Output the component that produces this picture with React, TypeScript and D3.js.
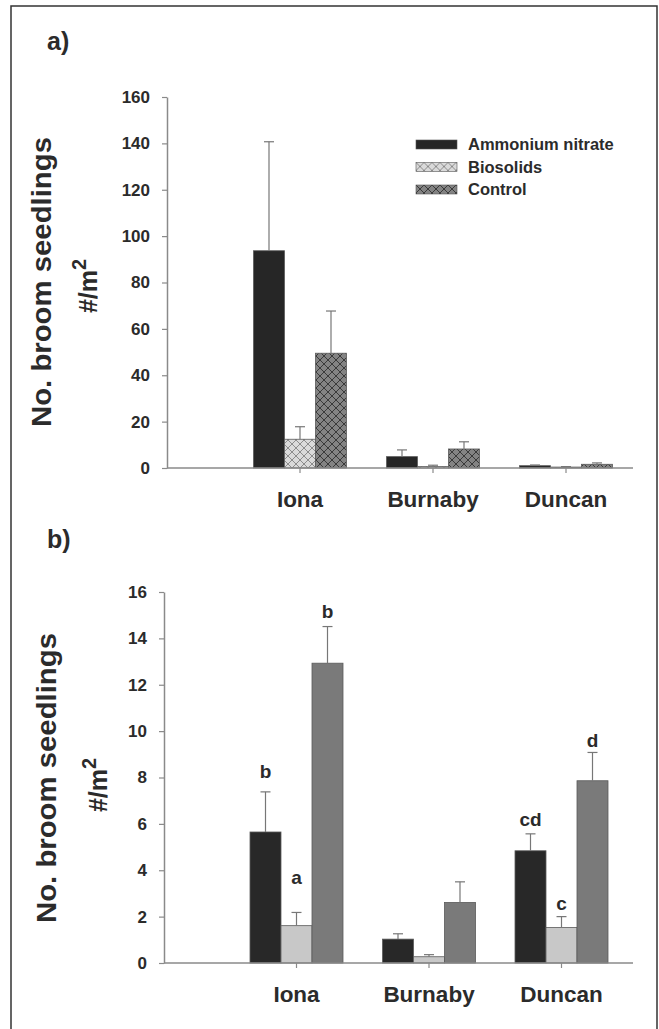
import React, { useEffect, useRef } from 'react';
import * as d3 from 'd3';

const sites = ['Iona', 'Burnaby', 'Duncan'];
const treatments = ['Ammonium nitrate', 'Biosolids', 'Control'];

// panel a) - rows are sites, columns are treatments
const meanA = [
  [93.7, 12.4, 49.5],
  [4.9, 0.6, 8.2],
  [1.0, 0.4, 1.6],
];
const seA = [
  [47.0, 5.4, 18.2],
  [2.9, 0.6, 3.1],
  [0.3, 0.2, 0.6],
];
const ticksA = [0, 20, 40, 60, 80, 100, 120, 140, 160];

// panel b)
const meanB = [
  [5.65, 1.61, 12.93],
  [1.03, 0.27, 2.61],
  [4.84, 1.53, 7.86],
];
const seB = [
  [1.73, 0.57, 1.58],
  [0.23, 0.09, 0.89],
  [0.73, 0.47, 1.22],
];
const lettersB = [
  ['b', 'a', 'b'],
  ['', '', ''],
  ['cd', 'c', 'd'],
];
const letterAtB = [
  [8.0, 3.4, 14.9],
  [0, 0, 0],
  [5.9, 2.3, 9.3],
];
const ticksB = [0, 2, 4, 6, 8, 10, 12, 14, 16];

const FONT = '"Liberation Sans", Arial, sans-serif';
const TEXT = '#2b2b2b';
const AXIS = '#8a8a8a';

const App = () => {
  const svgRef = useRef(null);

  useEffect(() => {
    const svg = d3.select(svgRef.current);
    svg.selectAll('*').remove();

    const defs = svg.append('defs');
    const hatch = (id, bg, fg) => {
      const p = defs.append('pattern')
        .attr('id', id)
        .attr('patternUnits', 'userSpaceOnUse')
        .attr('width', 8)
        .attr('height', 8);
      p.append('rect').attr('width', 8).attr('height', 8).attr('fill', bg);
      p.append('path')
        .attr('d', 'M0,0 L8,8 M8,0 L0,8 M-1,7 L1,9 M7,-1 L9,1')
        .attr('stroke', fg)
        .attr('stroke-width', 1);
    };
    hatch('hatchBio', '#dadada', '#8c8c8c');
    hatch('hatchCtl', '#838383', '#3a3a3a');

    // frame
    svg.append('path')
      .attr('d', 'M11,1040 L11,6 L657,6 L657,1040')
      .attr('fill', 'none')
      .attr('stroke', '#333')
      .attr('stroke-width', 1.5);

    drawPanel(svg, {
      label: 'a)', labelY: 50,
      mean: meanA, se: seA, ticks: ticksA, max: 160,
      left: 167, step: 133, top: 97, bottom: 468,
      fills: ['#262626', 'url(#hatchBio)', 'url(#hatchCtl)'],
      titleX: 51, title2X: 97, titleY: 282, title2Y: 286,
    });
    drawPanel(svg, {
      label: 'b)', labelY: 548,
      mean: meanB, se: seB, ticks: ticksB, max: 16,
      left: 164, step: 132.5, top: 592, bottom: 963,
      fills: ['#282828', '#c8c8c8', '#7a7a7a'],
      titleX: 56, title2X: 107, titleY: 778, title2Y: 785,
      letters: lettersB, letterAt: letterAtB,
    });

    // legend (panel a)
    const legend = svg.append('g').attr('transform', 'translate(416,140)');
    const legFills = ['#262626', 'url(#hatchBio)', 'url(#hatchCtl)'];
    treatments.forEach((t, i) => {
      const row = legend.append('g').attr('transform', `translate(0,${i * 22.5})`);
      row.append('rect')
        .attr('width', 41).attr('height', 9)
        .attr('fill', legFills[i])
        .attr('stroke', '#555').attr('stroke-width', 0.6);
      row.append('text')
        .attr('x', 52).attr('y', 10)
        .attr('font-family', FONT).attr('font-weight', 'bold')
        .attr('font-size', 16.5).attr('fill', TEXT)
        .text(t);
    });
  }, []);

  const drawPanel = (svg, c) => {
    const g = svg.append('g');
    const y = d3.scaleLinear().domain([0, c.max]).range([c.bottom, c.top]);
    const x = d3.scaleBand()
      .domain(['', ...sites])
      .range([c.left - c.step / 2, c.left + c.step * 3.5]);
    const xs = d3.scaleBand().domain(treatments).range([-46.5, 46.5]);
    const cx = (s) => x(s) + x.bandwidth() / 2;

    g.append('text')
      .attr('x', 47).attr('y', c.labelY)
      .attr('font-family', FONT).attr('font-weight', 'bold')
      .attr('font-size', 25).attr('fill', TEXT)
      .text(c.label);

    // bars
    sites.forEach((s, i) => {
      treatments.forEach((t, j) => {
        const v = c.mean[i][j];
        const bx = cx(s) + xs(t);
        g.append('rect')
          .attr('x', bx).attr('y', y(v))
          .attr('width', xs.bandwidth())
          .attr('height', y(0) - y(v))
          .attr('fill', c.fills[j])
          .attr('stroke', '#5a5a5a').attr('stroke-width', 0.8);

        const mx = bx + xs.bandwidth() / 2;
        const top = y(v + c.se[i][j]);
        g.append('line')
          .attr('x1', mx).attr('x2', mx)
          .attr('y1', y(v)).attr('y2', top)
          .attr('stroke', '#777').attr('stroke-width', 1.2);
        g.append('line')
          .attr('x1', mx - 5).attr('x2', mx + 5)
          .attr('y1', top).attr('y2', top)
          .attr('stroke', '#777').attr('stroke-width', 1.2);

        if (c.letters && c.letters[i][j]) {
          g.append('text')
            .attr('x', mx).attr('y', y(c.letterAt[i][j]))
            .attr('text-anchor', 'middle')
            .attr('font-family', FONT).attr('font-weight', 'bold')
            .attr('font-size', 19).attr('fill', TEXT)
            .text(c.letters[i][j]);
        }
      });
    });

    // y axis
    const ya = g.append('g')
      .attr('transform', `translate(${c.left},0)`)
      .call(d3.axisLeft(y).tickValues(c.ticks).tickSize(5).tickSizeOuter(0).tickPadding(12));
    ya.select('.domain').attr('stroke', AXIS).attr('stroke-width', 1.5);
    ya.selectAll('.tick line').attr('stroke', AXIS).attr('stroke-width', 1.2);
    ya.selectAll('.tick text')
      .attr('font-family', FONT).attr('font-weight', 'bold')
      .attr('font-size', 17).attr('fill', TEXT);

    // x axis
    const xa = g.append('g')
      .attr('transform', `translate(0,${c.bottom})`)
      .call(d3.axisBottom(x).tickValues(sites).tickSize(5).tickSizeOuter(0).tickPadding(18));
    xa.select('.domain').remove();
    xa.append('line')
      .attr('x1', c.left).attr('x2', 633)
      .attr('stroke', AXIS).attr('stroke-width', 1.5);
    xa.selectAll('.tick line').attr('stroke', AXIS).attr('stroke-width', 1.2);
    xa.selectAll('.tick text')
      .attr('font-family', FONT).attr('font-weight', 'bold')
      .attr('font-size', 22.5).attr('fill', TEXT);

    // y title
    const t1 = g.append('text')
      .attr('transform', `translate(${c.titleX},${c.titleY}) rotate(-90)`)
      .attr('text-anchor', 'middle')
      .attr('font-family', FONT).attr('font-weight', 'bold')
      .attr('font-size', 27).attr('fill', TEXT)
      .attr('textLength', 290).attr('lengthAdjust', 'spacingAndGlyphs')
      .text('No. broom seedlings');
    const t2 = g.append('text')
      .attr('transform', `translate(${c.title2X},${c.title2Y}) rotate(-90)`)
      .attr('text-anchor', 'middle')
      .attr('font-family', FONT).attr('font-weight', 'bold')
      .attr('font-size', 25).attr('fill', TEXT);
    t2.append('tspan').text('#/m');
    t2.append('tspan').attr('dy', -11).attr('font-size', 20).text('2');
  };

  return (
    <div>
      <svg
        ref={svgRef}
        width={659}
        height={1029}
        style={{ position: 'absolute', left: 0, top: 0, background: '#fff' }}
      ></svg>
    </div>
  );
};

export default App;
